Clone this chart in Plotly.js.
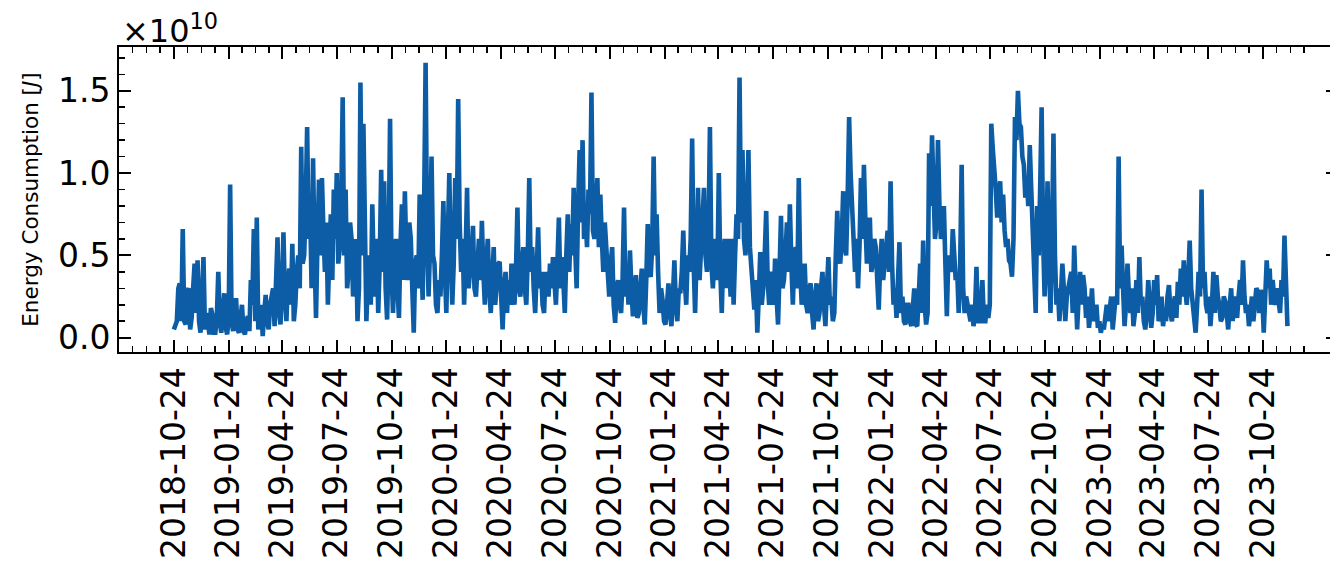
<!DOCTYPE html>
<html>
<head>
<meta charset="utf-8">
<script src="https://cdn.plot.ly/plotly-3.0.1.min.js"></script>
<style>
  html, body { margin: 0; padding: 0; overflow: hidden; background: #fff; }
  #chart { width: 1338px; height: 572px; }
</style>
</head>
<body>
<div id="chart"></div>
<script>
// Energy consumption (units of 1e10 J).
// "energy*" arrays: readings about every 5 days from 2018-10-24;
// "mid*" arrays: readings half-way between consecutive ones.
const startDate = '2018-10-24';
const stepDays = 4.966;
const exponent = 10;

const energy2018_2019 = [
  0.05,0.1,0.33,0.66,0.08,0.3,0.12,0.45,0.47,0.03,
  0.49,0.15,0.02,0.14,0.03,0.4,0.03,0.27,0.02,0.93,
  0.04,0.24,0.03,0.2,0.02,0.13,0.35,0.66,0.73,0.1,
  0.01,0.26,0.05,0.24,0.07,0.61,0.08,0.64,0.1,0.42,
  0.57,0.2,0.5,1.16,0.5,1.28,0.8,1.09,0.12,0.96,
  0.97,0.4,0.2,0.75,0.9,1.0,0.55,1.46,0.9,0.4,
  0.6,0.4,0.1,1.55
];
const mid2018_2019 = [
  0.08,0.3,0.1,0.1,0.28,0.05,0.3,0.15,0.1,0.25,
  0.05,0.1,0.18,0.03,0.12,0.1,0.15,0.06,0.12,0.1,
  0.15,0.05,0.12,0.04,0.1,0.04,0.2,0.1,0.05,0.2,
  0.15,0.1,0.2,0.3,0.35,0.15,0.3,0.25,0.35,0.2,
  0.1,0.4,0.3,0.45,0.8,0.6,0.3,0.5,0.6,0.5,
  0.65,0.7,0.5,0.35,0.6,0.45,0.8,0.5,0.3,0.7,
  0.25,0.6,0.3,0.5
];
const energy2019_2020 = [
  1.3,0.1,0.5,0.81,0.25,0.15,1.02,0.95,0.11,1.33,
  0.15,0.6,0.12,0.81,0.89,0.35,0.6,0.03,0.5,0.87,
  0.23,1.67,0.25,1.1,0.45,0.15,0.25,0.83,0.15,1.0,
  0.2,0.97,1.45,0.4,0.2,0.91,0.4,0.68,0.25,0.6,
  0.71,0.2,0.6,0.15,0.55,0.3,0.46,0.05,0.4,0.35,
  0.45,0.2,0.79,0.25,0.55,0.2,0.97,0.55,0.15,0.67,
  0.4,0.15,0.3,0.45
];
const mid2019_2020 = [
  0.4,0.35,0.2,0.4,0.6,0.45,0.4,0.3,0.5,0.4,
  0.45,0.3,0.55,0.35,0.5,0.7,0.3,0.45,0.3,0.55,
  0.8,0.6,0.55,0.5,0.2,0.35,0.5,0.4,0.6,0.5,
  0.45,0.6,0.7,0.6,0.5,0.3,0.5,0.3,0.45,0.35,
  0.4,0.45,0.3,0.35,0.2,0.45,0.25,0.3,0.15,0.2,
  0.3,0.4,0.3,0.45,0.3,0.5,0.4,0.3,0.4,0.3,
  0.2,0.4,0.25,0.3
];
const energy2020_2021 = [
  0.49,0.2,0.73,0.49,0.15,0.75,0.69,0.91,0.3,1.14,
  1.2,0.75,0.9,1.49,0.6,0.97,0.87,0.4,0.55,0.25,
  0.55,0.09,0.35,0.15,0.79,0.4,0.53,0.13,0.38,0.15,
  0.42,0.08,0.69,0.37,1.1,0.75,0.15,0.23,0.08,0.33,
  0.07,0.47,0.1,0.27,0.65,0.2,0.4,1.21,0.15,0.91,
  0.6,0.91,0.4,1.28,0.3,0.6,1.0,0.15,0.6,0.6,
  0.25,0.2,0.75,1.58
];
const mid2020_2021 = [
  0.35,0.45,0.3,0.35,0.5,0.4,0.5,0.55,0.8,0.7,
  0.6,0.55,0.75,0.65,0.8,0.55,0.6,0.7,0.35,0.45,
  0.2,0.3,0.2,0.35,0.25,0.2,0.3,0.25,0.12,0.3,
  0.2,0.35,0.4,0.55,0.5,0.4,0.3,0.1,0.2,0.15,
  0.25,0.2,0.3,0.4,0.35,0.5,0.6,0.45,0.5,0.35,
  0.8,0.5,0.6,0.45,0.5,0.35,0.4,0.5,0.3,0.45,
  0.6,0.5,0.6,0.7
];
const energy2021_2022 = [
  1.14,0.5,1.14,0.4,0.17,0.03,0.52,0.3,0.77,0.2,
  0.37,0.48,0.08,0.74,0.35,0.7,0.81,0.2,0.55,0.97,
  0.2,0.45,0.15,0.33,0.05,0.33,0.15,0.4,0.07,0.49,
  0.25,0.15,0.77,0.45,0.89,0.5,1.34,0.8,0.4,0.3,
  0.97,1.05,0.45,0.73,0.45,0.55,0.17,0.6,0.45,0.65,
  0.95,0.2,0.12,0.58,0.25,0.08,0.2,0.07,0.3,0.07,
  0.45,0.59,0.08,1.12
];
const mid2021_2022 = [
  0.6,0.75,0.55,0.3,0.35,0.25,0.2,0.5,0.35,0.4,
  0.2,0.25,0.4,0.3,0.5,0.4,0.45,0.5,0.3,0.4,
  0.35,0.2,0.3,0.15,0.25,0.1,0.3,0.2,0.3,0.2,
  0.1,0.5,0.5,0.6,0.55,0.85,1.0,0.55,0.6,0.55,
  0.6,0.7,0.55,0.4,0.6,0.35,0.45,0.35,0.55,0.4,
  0.45,0.3,0.35,0.15,0.1,0.2,0.1,0.18,0.08,0.25,
  0.15,0.2,0.15,0.8
];
const energy2022_2023 = [
  1.23,0.6,1.2,0.6,0.8,0.13,0.45,0.66,0.35,0.15,
  1.05,0.15,0.2,0.1,0.07,0.43,0.1,0.35,0.1,0.12,
  1.3,1.05,0.73,0.95,0.87,0.55,0.47,0.37,1.34,1.5,
  1.28,1.05,0.96,1.17,0.65,0.15,0.5,1.4,0.25,0.95,
  0.15,1.24,0.2,0.1,0.45,0.1,0.3,0.4,0.56,0.05,
  0.4,0.38,0.12,0.06,0.3,0.15,0.06,0.03,0.05,0.2,
  0.17,0.05,0.25,1.1
];
const mid2022_2023 = [
  0.9,0.7,0.8,0.65,0.45,0.5,0.4,0.5,0.4,0.45,
  0.3,0.25,0.12,0.2,0.15,0.1,0.2,0.1,0.2,0.2,
  1.15,0.9,0.85,0.7,0.65,0.6,0.45,0.6,1.2,1.3,
  1.1,0.85,0.8,0.9,0.5,0.8,0.9,0.6,0.5,0.45,
  0.6,0.5,0.3,0.25,0.3,0.25,0.35,0.15,0.3,0.25,
  0.2,0.3,0.25,0.15,0.1,0.2,0.1,0.08,0.15,0.1,
  0.25,0.15,0.2,0.3
];
const energy2023 = [
  0.56,0.07,0.45,0.15,0.07,0.35,0.49,0.25,0.05,0.35,
  0.06,0.35,0.38,0.15,0.07,0.1,0.32,0.1,0.25,0.34,
  0.42,0.47,0.2,0.59,0.2,0.03,0.4,0.9,0.4,0.15,
  0.07,0.4,0.38,0.2,0.12,0.22,0.05,0.3,0.25,0.12,
  0.35,0.47,0.15,0.07,0.25,0.2,0.28,0.29,0.03,0.47,
  0.42,0.35,0.2,0.2,0.35,0.62,0.07
];
const mid2023 = [
  0.3,0.2,0.25,0.3,0.15,0.15,0.2,0.1,0.15,0.2,
  0.15,0.2,0.1,0.25,0.15,0.25,0.15,0.2,0.12,0.2,
  0.25,0.3,0.35,0.3,0.15,0.2,0.25,0.3,0.2,0.25,
  0.2,0.15,0.25,0.1,0.25,0.15,0.2,0.1,0.2,0.25,
  0.2,0.25,0.2,0.15,0.1,0.3,0.15,0.25,0.2,0.3,
  0.2,0.25,0.3,0.15,0.25,0.3
];

const tickDates = [
  '2018-10-24','2019-01-24','2019-04-24','2019-07-24','2019-10-24',
  '2020-01-24','2020-04-24','2020-07-24','2020-10-24','2021-01-24',
  '2021-04-24','2021-07-24','2021-10-24','2022-01-24','2022-04-24',
  '2022-07-24','2022-10-24','2023-01-24','2023-04-24','2023-07-24',
  '2023-10-24'
];

const energy = [].concat(energy2018_2019, energy2019_2020, energy2020_2021,
                         energy2021_2022, energy2022_2023, energy2023);
const mids = [].concat(mid2018_2019, mid2019_2020, mid2020_2021,
                       mid2021_2022, mid2022_2023, mid2023);
const series = [];
for (let i = 0; i < energy.length; i++) {
  series.push(energy[i]);
  if (i < mids.length && i < energy.length - 1) series.push(mids[i]);
}

// minor ticks: 3 between each pair of major (quarterly) ticks
function toMs(s) { return Date.parse(s + 'T00:00:00Z'); }
function shiftMonths(s, m) {
  const d = new Date(toMs(s)); d.setUTCMonth(d.getUTCMonth() + m);
  return d.toISOString().slice(0, 10);
}
const majorExt = [shiftMonths(tickDates[0], -3)].concat(tickDates, [shiftMonths(tickDates[tickDates.length-1], 3), shiftMonths(tickDates[tickDates.length-1], 6)]);
const minorDates = [];
for (let i = 0; i < majorExt.length - 1; i++) {
  const a = toMs(majorExt[i]), b = toMs(majorExt[i+1]);
  for (let j = 1; j < 4; j++) minorDates.push(new Date(a + (b - a) * j / 4).toISOString());
}

const trace = {
  type: 'scatter', mode: 'lines',
  x0: startDate, dx: stepDays / 2 * 86400000,
  y: series,
  line: { color: '#0C5DA5', width: 4.6 },
  hoverinfo: 'x+y'
};

const axisCommon = {
  showline: true, linecolor: 'black', linewidth: 2, mirror: 'allticks',
  ticks: 'inside', ticklen: 12, tickwidth: 2, tickcolor: 'black',
  showgrid: false, zeroline: false,
  tickfont: { family: 'DejaVu Sans', size: 33, color: 'black' }
};

const layout = {
  width: 1338, height: 572,
  margin: { l: 119, r: 0, t: 47, b: 220, pad: 0 },
  paper_bgcolor: 'white', plot_bgcolor: 'white',
  showlegend: false,
  font: { family: 'DejaVu Sans', color: 'black' },
  xaxis: Object.assign({}, axisCommon, {
    type: 'date', range: ['2018-07-24', '2024-02-27'],
    tickmode: 'array', tickvals: tickDates, ticktext: tickDates,
    tickangle: -90,
    minor: { tickmode: 'array', tickvals: minorDates, ticks: 'inside', ticklen: 6, tickwidth: 1.5, tickcolor: 'black', showgrid: false }
  }),
  yaxis: Object.assign({}, axisCommon, {
    range: [-0.087, 1.766],
    tickmode: 'linear', tick0: 0, dtick: 0.5, tickformat: '.1f',
    minor: { tickmode: 'linear', tick0: 0, dtick: 0.1, ticks: 'inside', ticklen: 6, tickwidth: 1.5, tickcolor: 'black', showgrid: false },
    title: { text: 'Energy Consumption [<i>J</i>]', font: { family: 'DejaVu Sans', size: 21.5, color: 'black' }, standoff: 13 }
  }),
  annotations: [{
    xref: 'paper', yref: 'paper', x: 0, y: 1, xanchor: 'left', yanchor: 'bottom',
    text: '×10<sup>' + exponent + '</sup>', showarrow: false,
    font: { family: 'DejaVu Sans', size: 32, color: 'black' },
    xshift: 1, yshift: -5
  }]
};

Plotly.newPlot('chart', [trace], layout, { staticPlot: true, displayModeBar: false });
</script>
</body>
</html>
